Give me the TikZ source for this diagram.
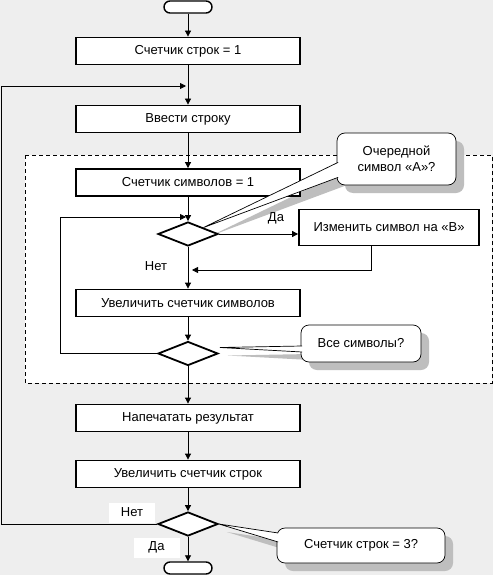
\documentclass[tikz,border=0pt]{standalone}
\usepackage{fontspec}
\setmainfont{Liberation Sans}
\usetikzlibrary{shapes.geometric,arrows.meta,shadows,calc}
\definecolor{bgc}{RGB}{238,238,238}
\definecolor{shc}{RGB}{190,190,190}
\pgfdeclarelayer{bglayer}
\pgfdeclarelayer{shlayer}
\pgfsetlayers{bglayer,shlayer,main}
\begin{document}
\begin{tikzpicture}[x=1pt,y=-1pt,
  font=\fontsize{13}{16}\selectfont,
  proc/.style={draw, line width=1.8pt, fill=white, minimum width=224pt, minimum height=27pt, inner sep=0pt},
  dec/.style={draw, diamond, line width=1.8pt, fill=white, minimum width=60pt, minimum height=24pt, inner sep=0pt},
  term/.style={draw, rounded corners=6pt, line width=1.4pt, fill=white, minimum width=48pt, minimum height=12pt, inner sep=0pt},
  conn/.style={line width=0.8pt, -{Triangle[length=6pt,width=6pt]}},
  plain/.style={line width=0.8pt},
  lbl/.style={inner sep=1pt},
  wlbl/.style={fill=white, inner sep=0pt, minimum width=46pt, minimum height=20pt},
  callout/.style={draw, fill=white, rounded corners=8pt, line width=0.7pt, align=center, inner sep=0pt,
    drop shadow={shadow xshift=8pt, shadow yshift=-8pt, fill=shc, opacity=1}},
  tailfill/.style={fill=white},
  tailline/.style={line width=0.7pt},
  tailshadow/.style={fill=shc},
]
\useasboundingbox (0,0) rectangle (493,575);
\begin{pgfonlayer}{bglayer}
\fill[bgc] (0,0) rectangle (493,575);
\draw[dash pattern=on 4pt off 3pt, fill=white, line width=0.8pt] (25,155) rectangle (492,383);
\end{pgfonlayer}

% nodes
\node[term] (t1) at (188,7) {};
\node[proc] (b1) at (188,51) {Счетчик строк = 1};
\node[proc] (b2) at (188,119) {Ввести строку};
\node[proc] (b3) at (188,182.5) {Счетчик символов = 1};
\node[dec] (d1) at (188,234) {};
\node[draw, line width=1.8pt, fill=white, minimum width=180pt, minimum height=36pt, inner sep=0pt] (bc) at (389,227.5) {Изменить символ на «В»};
\node[proc] (b4) at (188,303) {Увеличить счетчик символов};
\node[dec] (d2) at (188,353.5) {};
\node[proc] (b5) at (188,418) {Напечатать результат};
\node[proc] (b6) at (188,474) {Увеличить счетчик строк};
\node[dec] (d3) at (188,524) {};
\node[term] (t2) at (188,568) {};

% helper coordinates
\coordinate (j1) at (186,217);
\coordinate (j2) at (186,86);
\coordinate (j3) at (192,270);
\coordinate (lin) at (60,0);
\coordinate (lout) at (1,0);

% connectors
\draw[conn] (t1) -- (b1);
\draw[conn] (b1) -- (b2);
\draw[conn] (b2) -- (b3);
\draw[conn] (b3) -- (d1);
\draw[conn] (d1) -- (b4);
\draw[conn] (b4) -- (d2);
\draw[conn] (d2) -- (b5);
\draw[conn] (b5) -- (b6);
\draw[conn] (b6) -- (d3);
\draw[conn] (d3) -- (t2);
\draw[conn] (d1.east) -- (d1.east -| bc.west);
\draw[conn] ([xshift=-18pt]bc.south) |- (j3);
\draw[conn] (d2.west) -- (d2.west -| lin) |- (j1);
\draw[conn] (d3.west) -- (d3.west -| lout) |- (j2);

% labels
\node[lbl] (lda1) at (276,218) {Да};
\node[lbl] (lnet1) at (156,266) {Нет};
\node[wlbl] (lnet2) at (132,512.5) {Нет};
\node[wlbl] (lda2) at (156.5,547.5) {Да};

% callouts
\node[callout, minimum width=119pt, minimum height=52pt] (c1) at (396.5,159) {Очередной\\символ «А»?};
\node[callout, minimum width=120pt, minimum height=37pt] (c2) at (361,343.5) {Все символы?};
\node[callout, minimum width=168pt, minimum height=35pt] (c3) at (361,545.5) {Счетчик строк = 3?};

\coordinate (c1a) at ($(c1.south west)+(1.5,-23)$);
\coordinate (c1b) at ($(c1.south west)+(1.5,-8)$);
\coordinate (c2a) at ($(c2.west)+(1.5,2.5)$);
\coordinate (c2b) at ($(c2.west)+(1.5,8.5)$);
\coordinate (c3a) at ($(c3.west)+(1.5,-12.5)$);
\coordinate (c3b) at ($(c3.west)+(1.5,-3.5)$);
\coordinate (p2) at ($(d2.east)+(1,-6)$);

\begin{pgfonlayer}{shlayer}
\fill[tailshadow] ($(c1a)+(8,8)$) -- ($(d1.north east)+(8,8)$) -- ($(c1b)+(8,8)$) -- cycle;
\fill[tailshadow] ($(c2a)+(8,8)$) -- ($(p2)+(8,8)$) -- ($(c2b)+(8,8)$) -- cycle;
\fill[tailshadow] ($(c3a)+(8,8)$) -- ($(d3.east)+(8,8)$) -- ($(c3b)+(8,8)$) -- cycle;
\end{pgfonlayer}

\fill[tailfill] (c1a) -- (d1.north east) -- (c1b) -- cycle;
\draw[tailline] (c1a) -- (d1.north east) -- (c1b);
\fill[tailfill] (c2a) -- (p2) -- (c2b) -- cycle;
\draw[tailline] (c2a) -- (p2) -- (c2b);
\fill[tailfill] (c3a) -- (d3.east) -- (c3b) -- cycle;
\draw[tailline] (c3a) -- (d3.east) -- (c3b);
\end{tikzpicture}
\end{document}
